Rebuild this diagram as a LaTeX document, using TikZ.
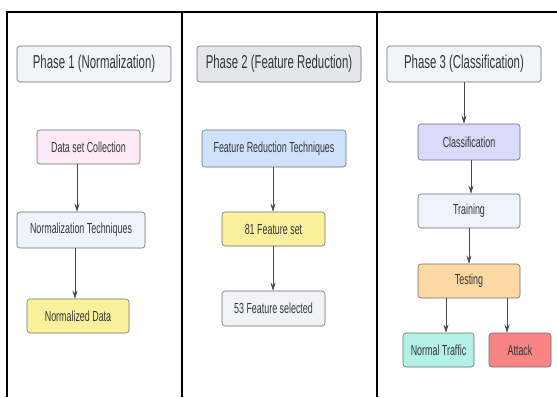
\documentclass[tikz,border=0pt]{standalone}
\usepackage{fontspec}
\setmainfont{Liberation Sans}[FakeStretch=0.61]
\usetikzlibrary{arrows.meta,calc}
\definecolor{txt}{HTML}{33363B}
\definecolor{bord}{HTML}{6B6E73}
\definecolor{arrc}{HTML}{454950}
\definecolor{hdrA}{HTML}{F3F4F6}
\definecolor{hdrB}{HTML}{E5E6E9}
\definecolor{pinkf}{HTML}{FCEAF8}
\definecolor{lblue}{HTML}{EEF3FC}
\definecolor{mblue}{HTML}{CFE2FB}
\definecolor{yell}{HTML}{FBF19C}
\definecolor{lgray}{HTML}{F2F3F5}
\definecolor{lav}{HTML}{DADAFA}
\definecolor{orng}{HTML}{FCD9A2}
\definecolor{mint}{HTML}{B3F1E6}
\definecolor{salm}{HTML}{F88584}
\tikzset{
  hdrbox/.style={draw=bord, line width=0.6pt, rounded corners=3pt, text=txt, font=\fontsize{18.7}{20}\selectfont, inner sep=0pt},
  stepbox/.style={draw=bord, line width=0.6pt, rounded corners=3pt, text=txt, font=\fontsize{14.6}{16}\selectfont, inner sep=0pt},
  arr/.style={draw=arrc, line width=0.6pt, -{Stealth[length=8pt,width=5pt]}},
  frame/.style={draw=black, line width=1.6pt}
}
\begin{document}
\begin{tikzpicture}[x=1pt,y=-1pt]
\useasboundingbox (0,0) rectangle (557,397);
% frame
\coordinate (tl) at (7,12);
\coordinate (tr) at (557,12);
\coordinate (bl) at (7,397);
\coordinate (d1t) at (182,12);
\coordinate (d1b) at (182,397);
\coordinate (d2t) at (377,12);
\coordinate (d2b) at (377,397);
\draw[frame] (bl) -- (tl) -- (tr);
\draw[frame] (d1t) -- (d1b);
\draw[frame] (d2t) -- (d2b);
% headers
\node[hdrbox, fill=hdrA, minimum width=154pt, minimum height=36pt] (h1) at (94,64) {Phase 1 (Normalization)};
\node[hdrbox, fill=hdrB, minimum width=164pt, minimum height=36pt] (h2) at (279,64) {Phase 2 (Feature Reduction)};
\node[hdrbox, fill=hdrA, minimum width=154pt, minimum height=36pt] (h3) at (464,64) {Phase 3 (Classification)};
% phase 1
\node[stepbox, fill=pinkf, minimum width=103pt, minimum height=34pt] (dsc) at (88.5,147) {Data set Collection};
\node[stepbox, fill=lblue, minimum width=128pt, minimum height=36pt] (nt) at (81,230) {Normalization Techniques};
\node[stepbox, fill=yell, minimum width=102pt, minimum height=34pt] (nd) at (78,316) {Normalized Data};
\coordinate (x1) at (77,0);
\coordinate (x2) at (75,0);
\draw[arr] (dsc.south -| x1) -- (nt.north -| x1);
\draw[arr] (nt.south -| x2) -- (nd.north -| x2);
% phase 2
\node[stepbox, fill=mblue, minimum width=144pt, minimum height=37pt] (frt) at (274,148.5) {Feature Reduction Techniques};
\node[stepbox, fill=yell, minimum width=103pt, minimum height=34pt] (f81) at (273.5,229) {81 Feature set};
\node[stepbox, fill=lgray, minimum width=103pt, minimum height=35pt] (f53) at (273.5,308.5) {53 Feature selected};
\coordinate (x3) at (273,0);
\draw[arr] (frt.south -| x3) -- (f81.north -| x3);
\draw[arr] (f81.south -| x3) -- (f53.north -| x3);
% phase 3
\node[stepbox, fill=lav, minimum width=102pt, minimum height=36pt] (cls) at (469,142) {Classification};
\node[stepbox, fill=lblue, minimum width=102pt, minimum height=34pt] (trn) at (469,211) {Training};
\node[stepbox, fill=orng, minimum width=102pt, minimum height=34pt] (tst) at (469,281) {Testing};
\node[stepbox, fill=mint, minimum width=71pt, minimum height=34pt] (nrm) at (438.5,350) {Normal Traffic};
\node[stepbox, fill=salm, minimum width=62pt, minimum height=34pt] (atk) at (520,350) {Attack};
\coordinate (x4) at (464,0);
\coordinate (x5) at (471,0);
\coordinate (x6) at (469,0);
\coordinate (x7) at (446,0);
\coordinate (x8) at (507,0);
\draw[arr] (h3.south -| x4) -- (cls.north -| x4);
\draw[arr] (cls.south -| x5) -- (trn.north -| x5);
\draw[arr] (trn.south -| x6) -- (tst.north -| x6);
\draw[arr] (tst.south -| x7) -- (nrm.north -| x7);
\draw[arr] (tst.south -| x8) -- (atk.north -| x8);
\end{tikzpicture}
\end{document}
